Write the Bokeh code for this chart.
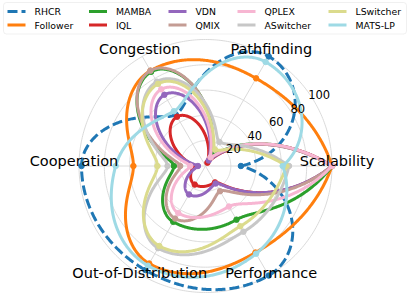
import numpy as np
from bokeh.plotting import figure
from bokeh.models import Range1d, BoxAnnotation
from bokeh.core.properties import value
from bokeh.embed import file_html
from bokeh.resources import INLINE

# ---------------- data ----------------
axis_labels = ["Scalability", "Pathfinding", "Congestion", "Cooperation",
               "Out-of-Distribution", "Performance"]
methods = ["RHCR", "Follower", "MAMBA", "IQL", "VDN", "QMIX", "QPLEX",
           "ASwitcher", "LSwitcher", "MATS-LP"]
# order of values: Scalability, Pathfinding, Congestion, Cooperation, OOD, Performance
rhcr      = [28, 100, 47, 98, 95, 100]
follower  = [100, 80, 87, 57, 89, 79]
mamba     = [100, 10, 86, 25, 51, 49]
iql       = [100, 3, 45, 10, 17, 15]
vdn       = [100, 5, 65, 6, 26, 16]
qmix      = [100, 8, 87, 20, 48, 23]
qplex     = [100, 8, 70, 12, 43, 37]
aswitcher = [66, 22, 77, 30, 75, 60]
lswitcher = [64, 15, 75, 38, 73, 55]
mats_lp   = [61, 95, 50, 71, 91, 80]
series = [rhcr, follower, mamba, iql, vdn, qmix, qplex, aswitcher, lswitcher, mats_lp]
colors = ["#1f77b4", "#ff7f0e", "#2ca02c", "#d62728", "#9467bd", "#c49c94",
          "#f7b6d2", "#c7c7c7", "#dbdb8d", "#9edae5"]
radial_ticks = [20, 40, 60, 80, 100]

# ---------------- layout constants ----------------
CX, CY, S = 205.0, 165.5, 1.265      # centre (window px) and px per unit
W, H = 409, 298
def dx(px):  # window px -> data x
    return (px - CX) / S
def dy(py):  # window py -> data y
    return (CY - py) / S

FONT = value("DejaVu Sans")
p = figure(width=W, height=H, output_backend="svg", toolbar_location=None,
           x_range=Range1d(dx(0), dx(W)), y_range=Range1d(dy(H), dy(0)),
           x_axis_type=None, y_axis_type=None, min_border=0)
p.outline_line_color = None
p.grid.visible = False

n = len(axis_labels)
theta = np.arange(n) * 2 * np.pi / n

# ---------------- grid ----------------
tt = np.linspace(0, 2 * np.pi, 361)
for r in radial_ticks:
    p.line(r * np.cos(tt), r * np.sin(tt), line_color="#d6d6d6", line_width=0.9)
rmax = max(radial_ticks)
p.segment(x0=np.zeros(n), y0=np.zeros(n), x1=rmax * np.cos(theta), y1=rmax * np.sin(theta),
          line_color="#d6d6d6", line_width=0.9)

# ---------------- monotone cubic (PCHIP) interpolation of r(theta) ----------------
def pchip_slopes(y):
    d = np.diff(y)
    m = len(y)
    s = np.zeros(m)
    for k in range(1, m - 1):
        if d[k - 1] * d[k] > 0:
            s[k] = 2.0 / (1.0 / d[k - 1] + 1.0 / d[k])
    def end(d0, d1):
        e = (3 * d0 - d1) / 2.0
        if np.sign(e) != np.sign(d0):
            return 0.0
        if np.sign(d0) != np.sign(d1) and abs(e) > abs(3 * d0):
            return 3 * d0
        return e
    s[0] = end(d[0], d[1])
    s[-1] = end(d[-1], d[-2])
    return s

def pchip_eval(y, s, t):
    i = np.minimum(np.floor(t).astype(int), len(y) - 2)
    u = t - i
    h00 = 2 * u**3 - 3 * u**2 + 1
    h10 = u**3 - 2 * u**2 + u
    h01 = -2 * u**3 + 3 * u**2
    h11 = u**3 - u**2
    return h00 * y[i] + h10 * s[i] + h01 * y[i + 1] + h11 * s[i + 1]

ts = np.linspace(0, n, 721)
th = ts * 2 * np.pi / n
for name, vals, col in zip(methods, series, colors):
    v = np.append(np.array(vals, dtype=float), vals[0])
    rs = pchip_eval(v, pchip_slopes(v), ts)
    dash = "10 4" if name == "RHCR" else "solid"
    p.line(rs * np.cos(th), rs * np.sin(th), line_color=col, line_width=3,
           line_dash=dash, line_join="round")
    vv = np.array(vals, dtype=float)
    p.scatter(vv * np.cos(theta), vv * np.sin(theta), size=5.5, fill_color=col, line_color=col)

# ---------------- labels ----------------
lab_x = 104 * np.cos(theta)
lab_y = 102 * np.sin(theta) + 4
p.text(x=lab_x, y=lab_y, text=axis_labels, text_font=FONT, text_font_size="14.5px",
       text_align="center", text_baseline="middle", text_color="black")

ang = np.deg2rad(32)
rt = np.array(radial_ticks, dtype=float)
p.text(x=(rt + 6) * np.cos(ang), y=(rt + 6) * np.sin(ang), text=[str(t) for t in radial_ticks],
       text_font=FONT, text_font_size="11.5px", text_align="center",
       text_baseline="middle", text_color="black")

# ---------------- legend (two rows, five columns) ----------------
box = BoxAnnotation(left=dx(3), right=dx(406), top=dy(2), bottom=dy(33.5),
                    fill_color="white", fill_alpha=1, line_color="#cccccc",
                    line_width=1, border_radius=3, level="underlay")
p.add_layout(box)
col_starts = [7, 88.5, 168, 237, 328]
row_ys = [11, 24.5]
for k, (name, col) in enumerate(zip(methods, colors)):
    c, r = k // 2, k % 2
    x0 = col_starts[c]
    yy = row_ys[r]
    dash = "10 4" if name == "RHCR" else "solid"
    p.line([dx(x0), dx(x0 + 18)], [dy(yy), dy(yy)], line_color=col, line_width=3,
           line_dash=dash)
    p.text(x=[dx(x0 + 27)], y=[dy(yy)], text=[name], text_font=FONT,
           text_font_size="9.3px", text_align="left", text_baseline="middle",
           text_color="black")

open("out.html", "w").write(file_html(p, INLINE))
